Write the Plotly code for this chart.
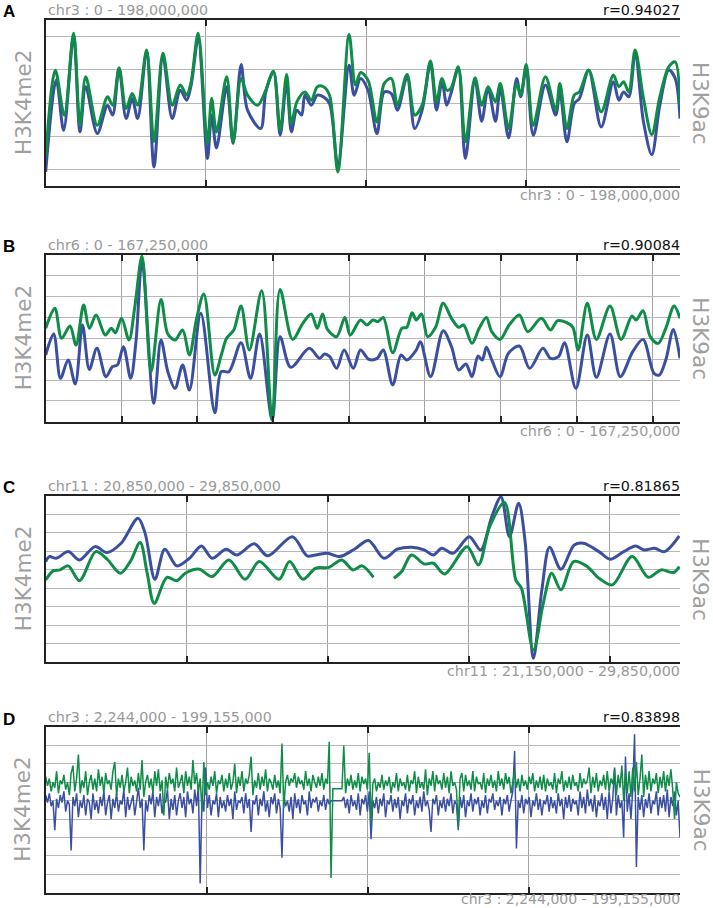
import numpy as np
import plotly.graph_objects as go

W, H = 713, 908
BLUE = "#3B4FA0"
GREEN = "#0E8C48"
GRAY_TXT = "#999999"
FONT = "DejaVu Sans"

# ---------------- Panel A : chr3 0 - 198,000,000 (Mb) ----------------
a_k9_pos = [0, 3.0, 5.8, 8.7, 10.7, 12.5, 16.1, 19.3, 20.9, 22.9, 25.1, 27.0, 28.7, 31.5, 33.8, 36.6,
            39.5, 42.0, 44.0, 45.4, 47.6, 50.5, 51.8, 53.3, 56.5, 58.5, 61.0, 63.0, 66.2, 68.7, 71.1,
            73.2, 75.2, 76.7, 78.4, 80.9, 82.9, 84.8, 86.7, 88.6, 91.2, 94.7, 96.7, 98.3, 100.6, 103.4,
            105.7, 107.9, 109.8, 112.8, 115.2, 117.5, 120.1, 122.0, 123.7, 125.2, 126.5, 128.8, 131.0,
            134.0, 136.1, 138.1, 140.4, 141.9, 144.5, 147.0, 148.3, 150.0, 152.2, 156.0, 159.2, 160.5,
            162.7, 165.0, 166.6, 169.5, 173.4, 177.2, 178.9, 180.4, 182.0, 184.0, 186.6, 189.2, 191.7,
            194.5, 196.5, 198.0]
a_k9 = [1.75, 6.98, 4.27, 9.2, 3.66, 6.58, 3.66, 5.37, 4.87, 7.12, 4.67, 5.57, 4.87, 8.19, 2.66, 7.99,
        4.87, 6.08, 5.47, 6.28, 9.2, 2.56, 5.27, 3.26, 6.58, 2.66, 6.48, 5.47, 4.87, 5.77, 6.92, 3.36,
        6.72, 3.76, 5.07, 5.67, 5.17, 5.98, 5.98, 5.47, 0.85, 9.13, 6.08, 6.84, 6.38, 3.86, 6.18, 6.48,
        4.87, 6.72, 4.27, 4.87, 7.53, 5.07, 6.48, 5.77, 5.88, 7.18, 2.66, 6.52, 4.87, 5.98, 5.07, 6.18,
        3.46, 6.18, 5.47, 7.32, 3.66, 6.58, 4.57, 6.18, 3.46, 5.47, 5.67, 6.98, 4.47, 6.68, 5.98, 6.28,
        5.67, 8.19, 5.27, 3.10, 5.37, 7.18, 7.48, 4.87]
a_k4_pos = [0, 3.3, 5.6, 8.7, 10.7, 12.5, 16.1, 19.3, 20.9, 22.9, 25.1, 27.0, 28.7, 31.5, 33.8, 36.6,
            39.5, 42.0, 44.0, 45.4, 47.6, 50.5, 51.8, 53.3, 56.5, 58.5, 61.0, 63.0, 67.1, 68.7, 71.1,
            73.2, 75.2, 76.7, 78.4, 79.9, 80.9, 82.9, 84.8, 86.7, 88.6, 91.2, 94.7, 96.3, 98.3, 100.6,
            103.4, 105.7, 107.9, 109.8, 112.8, 115.2, 117.5, 120.1, 122.0, 123.7, 125.2, 126.5, 128.8,
            131.0, 134.0, 136.1, 138.1, 140.4, 141.9, 144.5, 147.0, 148.3, 150.0, 152.2, 156.0, 159.2,
            160.5, 162.7, 165.0, 166.6, 169.5, 173.4, 177.2, 178.9, 180.4, 182.0, 184.0, 186.6, 189.2,
            191.7, 194.5, 196.5, 198.0]
a_k4 = [0.85, 6.38, 3.36, 9.05, 3.26, 5.98, 3.16, 4.87, 4.27, 7.08, 4.06, 5.27, 4.06, 8.09, 1.15, 7.79,
        4.06, 5.77, 5.17, 6.08, 8.89, 1.65, 4.27, 2.29, 5.98, 2.56, 7.32, 4.57, 3.46, 5.67, 6.88, 3.06,
        6.28, 3.26, 4.57, 4.27, 5.47, 4.87, 5.47, 5.37, 4.97, 1.25, 7.28, 5.47, 6.48, 5.77, 3.16, 5.67,
        5.57, 4.57, 6.58, 3.46, 4.57, 7.38, 4.57, 6.28, 4.87, 5.57, 7.08, 1.65, 6.38, 3.90, 5.88, 3.90,
        5.88, 2.90, 6.48, 5.37, 7.08, 3.06, 6.08, 4.27, 5.67, 2.66, 4.97, 5.27, 6.98, 3.56, 6.28, 5.17,
        5.67, 5.37, 7.99, 3.86, 1.89, 4.87, 6.98, 6.48, 4.06]

# ---------------- Panel B : chr6 0 - 167,250,000 (Mb) ----------------
b_k9_pos = [0, 2.4, 4.2, 6.4, 8.0, 10.0, 11.5, 13.3, 15.7, 17.3, 18.4, 20.0, 21.96, 23.5, 25.4, 27.8,
            30.4, 32.2, 34.1, 36.1, 37.9, 39.8, 41.7, 44.6, 46.3, 47.7, 49.6, 51.5, 53.7, 56.96, 59.7,
            61.8, 65.1, 67.8, 70.0, 71.6, 73.0, 74.3, 76.7, 78.9, 80.3, 83.0, 84.7, 86.3, 87.6, 89.0,
            91.5, 93.9, 95.2, 96.6, 97.7, 99.1, 100.7, 102.8, 104.8, 107.0, 108.9, 110.2, 112.4, 114.3,
            116.2, 117.6, 119.8, 122.2, 124.9, 127.1, 130.7, 133.1, 135.0, 137.4, 139.0, 140.4, 142.8,
            145.2, 148.8, 151.7, 154.6, 155.7, 157.5, 159.4, 161.5, 163.5, 165.7, 167.25]
b_k9 = [4.48, 5.44, 4.0, 4.59, 3.68, 5.6, 4.48, 5.12, 4.16, 4.48, 4.27, 4.96, 3.92, 5.52, 7.95, 2.4,
        5.87, 4.21, 3.92, 4.4, 3.2, 4.96, 6.13, 2.24, 3.2, 4.0, 4.4, 5.55, 3.44, 6.29, 0.08, 6.35, 3.95,
        4.72, 5.17, 4.48, 5.17, 4.43, 4.08, 5.0, 4.16, 4.88, 4.64, 4.88, 4.8, 5.0, 3.31, 4.48, 4.53,
        5.23, 4.88, 5.17, 4.08, 4.53, 5.68, 4.96, 4.53, 4.64, 3.76, 4.48, 5.0, 4.32, 3.95, 4.64, 5.12,
        4.32, 4.96, 4.4, 4.85, 4.75, 4.53, 3.44, 5.68, 3.95, 5.55, 3.95, 5.07, 4.88, 5.33, 4.08, 3.76,
        4.48, 5.55, 4.96]
b_k4_pos = [0, 2.1, 3.9, 5.9, 7.8, 9.7, 11.5, 13.5, 15.9, 17.6, 18.9, 20.5, 22.4, 23.8, 25.4, 28.5,
            30.4, 32.2, 34.1, 36.1, 37.9, 40.9, 44.6, 46.3, 48.3, 51.5, 54.0, 56.4, 59.7, 61.8, 64.6,
            69.5, 72.2, 73.5, 74.9, 76.7, 78.7, 81.1, 83.0, 85.2, 87.4, 89.0, 91.5, 93.7, 95.2, 97.7,
            98.8, 101.5, 104.8, 107.0, 108.9, 110.8, 112.4, 114.0, 115.1, 116.2, 117.8, 119.8, 122.0,
            124.9, 127.6, 131.1, 133.1, 135.2, 136.8, 139.8, 142.8, 145.2, 148.8, 151.5, 154.8, 157.5,
            160.4, 161.8, 163.5, 165.5, 167.25]
b_k4 = [3.2, 4.21, 2.08, 2.96, 1.81, 4.64, 2.51, 3.52, 2.16, 2.64, 2.72, 3.6, 2.08, 3.84, 7.76, 0.88,
        3.92, 2.4, 1.6, 2.72, 1.52, 5.2, 0.43, 2.4, 2.4, 3.79, 2.08, 4.21, 0.08, 4.08, 2.61, 3.52, 3.04,
        3.25, 3.12, 2.56, 3.44, 2.56, 3.44, 2.99, 3.04, 3.44, 1.76, 3.2, 2.96, 3.44, 3.84, 2.16, 4.37,
        3.6, 2.48, 2.77, 2.16, 3.15, 2.96, 3.57, 2.88, 2.16, 3.28, 3.63, 2.56, 3.52, 3.04, 3.12, 3.79,
        1.6, 4.16, 2.13, 4.21, 2.16, 3.36, 3.95, 2.32, 2.24, 2.96, 4.43, 3.04]

# ---------------- Panel C : chr11 20,850,000 - 29,850,000 (Mb) ----------------
c_k4_pos = [20.85, 20.90, 21.0, 21.17, 21.33, 21.55, 21.72, 21.92, 22.16, 22.26, 22.40, 22.54, 22.71,
            22.89, 23.06, 23.21, 23.41, 23.56, 23.81, 24.00, 24.35, 24.56, 24.68, 24.85, 25.02, 25.23,
            25.43, 25.65, 25.84, 26.04, 26.22, 26.35, 26.47, 26.63, 26.86, 27.02, 27.18, 27.31, 27.43,
            27.56, 27.65, 27.77, 27.89, 28.00, 28.16, 28.35, 28.48, 28.70, 28.86, 29.05, 29.22, 29.34,
            29.49, 29.63, 29.84]
c_k4 = [5.45, 5.72, 5.63, 5.99, 5.54, 6.26, 5.94, 6.44, 7.8, 6.99, 4.49, 6.12, 5.22, 5.63, 6.30, 5.63,
        6.12, 5.81, 6.41, 5.76, 6.8, 5.76, 5.81, 5.90, 5.72, 6.12, 6.59, 5.63, 6.12, 6.23, 6.08, 5.81,
        6.17, 5.90, 6.8, 6.08, 7.89, 8.95, 6.8, 8.61, 6.62, 0.22, 3.92, 6.23, 5.04, 6.35, 6.44, 5.99,
        5.58, 5.99, 6.30, 6.08, 6.17, 5.99, 6.84]
c_k9_pos = [20.85, 20.96, 21.05, 21.17, 21.33, 21.56, 21.72, 21.91, 22.05, 22.19, 22.29, 22.39, 22.57,
            22.71, 22.83, 23.03, 23.21, 23.45, 23.68, 23.88, 24.16, 24.31, 24.50, 24.68, 24.87, 25.05,
            25.21, 25.34, 25.50, 25.65, 25.79, 25.90, 26.04, 26.22, 26.35, 26.51, 26.83, 26.99, 27.15,
            27.36, 27.52, 27.60, 27.77, 27.91, 28.03, 28.16, 28.34, 28.52, 28.70, 28.89, 29.17, 29.40,
            29.58, 29.76, 29.84]
c_k9 = [4.46, 4.96, 5.0, 5.22, 4.42, 5.99, 5.58, 4.82, 5.45, 6.48, 4.82, 3.19, 4.60, 4.42, 4.82, 5.04,
        4.64, 5.54, 4.49, 5.45, 4.49, 5.45, 4.49, 5.09, 5.14, 5.54, 5.0, 5.22, 4.60, None, 4.55, 4.91,
        5.81, 5.32, 5.36, 4.78, 6.26, 5.27, 7.35, 8.65, 4.46, 4.01, 0.67, 3.19, 4.82, 3.92, 5.45, 5.22,
        4.55, 4.19, 5.72, 4.60, 5.0, 4.86, 5.18]

# ---------------- Panel D : chr3 2,244,000 - 199,155,000 (equal-width bins) ----------------
d_k4 = [5.3, 4.9, 5.4, 4.7, 5.0, 3.4, 5.1, 4.6, 5.3, 4.9,
        5.5, 4.4, 5.0, 4.8, 2.3, 5.2, 4.7, 5.4, 4.1, 5.0,
        4.6, 5.3, 4.2, 5.1, 4.9, 4.0, 5.4, 4.5, 5.0, 4.3,
        5.2, 4.7, 5.5, 4.2, 4.9, 5.3, 4.0, 5.1, 4.6, 5.4,
        4.4, 5.0, 4.8, 5.6, 4.1, 5.2, 4.5, 4.9, 5.3, 4.2,
        5.0, 5.7, 4.6, 5.1, 2.3, 5.0, 4.4, 5.3, 4.8, 5.5,
        4.1, 5.2, 4.7, 5.4, 4.3, 5.0, 4.9, 5.6, 4.0, 5.1,
        4.5, 5.3, 4.2, 5.0, 5.4, 4.6, 5.2, 4.1, 5.5, 4.8,
        5.1, 4.3, 5.6, 4.7, 5.8, 0.5, 5.2, 4.4, 6.8, 4.6,
        5.3, 4.2, 5.0, 4.8, 5.4, 4.1, 5.2, 4.6, 5.0, 4.4,
        5.3, 4.7, 5.1, 4.0, 5.5, 4.5, 5.0, 4.9, 5.2, 4.3,
        5.4, 4.6, 5.1, 3.3, 5.0, 4.8, 5.3, 4.2, 5.1, 4.7,
        5.5, 4.4, 5.0, 4.1, 5.2, 4.8, 5.4, 4.3, 5.1, 4.6,
        1.9, 5.3, 4.7, 5.0, 4.4, 5.2, 4.0, 5.4, 4.6, 5.1,
        4.3, 5.3, 4.8, 5.0, 4.2, 5.5, 4.6, 5.1, 4.9, 5.2,
        4.4, 5.0, 4.7, 5.3, 4.5, 5.1, 4.8, 5.0, 5.0, 5.0,
        5.0, 5.0, 5.0, 5.0, 5.2, 4.6, 5.1, 4.3, 5.3, 4.7,
        5.0, 4.5, 5.4, 4.2, 5.1, 4.8, 5.3, 4.4, 5.5, 2.9,
        5.0, 4.6, 5.2, 4.3, 5.1, 4.7, 5.4, 4.1, 5.0, 4.8,
        5.3, 4.4, 5.1, 4.6, 5.2, 4.0, 5.0, 4.7, 5.4, 4.3,
        5.1, 4.8, 5.3, 4.2, 5.0, 4.6, 5.2, 4.4, 5.5, 4.7,
        5.0, 4.5, 3.3, 5.1, 4.8, 5.3, 4.2, 5.0, 4.6, 5.2,
        4.4, 5.1, 4.7, 5.4, 4.3, 5.0, 4.8, 3.4, 5.2, 4.6,
        5.3, 4.1, 5.0, 4.7, 5.4, 4.4, 5.1, 4.8, 5.2, 4.2,
        5.0, 4.6, 5.3, 4.3, 5.1, 4.9, 5.4, 4.5, 5.0, 4.7,
        5.2, 4.2, 5.1, 4.8, 5.3, 4.4, 5.0, 5.5, 7.7, 2.4,
        5.0, 4.6, 5.3, 4.3, 5.1, 4.8, 5.2, 4.1, 5.0, 4.7,
        5.4, 4.5, 5.1, 4.2, 5.0, 4.8, 5.3, 4.4, 5.2, 4.6,
        5.0, 4.3, 5.4, 4.7, 5.1, 4.0, 5.2, 4.6, 5.3, 4.4,
        5.1, 4.8, 5.0, 4.2, 5.5, 4.6, 5.2, 4.3, 5.6, 4.7,
        5.1, 4.4, 5.3, 4.1, 5.0, 4.7, 5.4, 4.5, 5.2, 4.0,
        5.5, 4.3, 5.1, 6.8, 4.2, 5.3, 4.6, 5.0, 3.0, 7.4,
        4.4, 5.4, 4.0, 5.6, 8.6, 1.4, 5.2, 4.5, 5.3, 4.1,
        5.1, 4.6, 5.4, 4.3, 5.0, 4.8, 5.5, 4.2, 5.2, 4.6,
        5.3, 4.4, 5.6, 4.1, 5.2, 4.7, 5.5, 4.2, 5.0, 3.0]
d_k9 = [6.3, 5.8, 6.2, 5.5, 6.0, 5.7, 6.6, 5.4, 6.1, 5.9,
        6.4, 5.6, 6.0, 5.3, 6.5, 6.9, 5.5, 6.2, 7.5, 5.4,
        6.1, 5.7, 6.6, 5.3, 6.0, 6.4, 5.6, 6.2, 5.5, 6.7,
        5.8, 6.3, 5.4, 6.5, 5.9, 6.1, 5.6, 6.6, 7.1, 5.3,
        6.2, 5.7, 6.4, 5.5, 6.0, 6.8, 5.4, 6.3, 5.8, 6.1,
        5.5, 6.5, 5.6, 7.2, 5.2, 6.0, 6.4, 5.7, 6.2, 5.4,
        6.6, 5.8, 6.7, 5.5, 6.1, 4.2, 6.3, 5.6, 6.5, 5.9,
        6.2, 5.5, 6.8, 5.7, 6.0, 6.4, 5.4, 6.6, 5.8, 6.3,
        5.6, 7.2, 5.9, 6.5, 5.5, 6.2, 4.4, 7.1, 5.3, 6.0,
        5.6, 6.3, 5.8, 6.6, 5.4, 6.1, 5.9, 6.4, 5.5, 6.2,
        5.7, 6.5, 5.6, 6.0, 7.0, 5.4, 6.3, 5.8, 6.6, 5.5,
        6.2, 5.9, 6.4, 7.4, 5.3, 6.1, 5.7, 6.5, 5.6, 6.3,
        5.8, 6.7, 5.5, 6.2, 6.0, 5.6, 6.4, 5.7, 6.1, 5.4,
        8.1, 4.6, 6.0, 6.4, 5.8, 6.2, 6.0, 6.5, 5.7, 6.3,
        5.9, 6.1, 5.6, 6.6, 5.8, 6.2, 5.5, 6.4, 6.0, 5.7,
        6.3, 5.8, 6.5, 5.6, 6.2, 5.9, 8.2, 0.8, 5.65, 5.65,
        5.65, 5.65, 5.65, 5.65, 8.0, 5.4, 6.2, 5.8, 6.4, 5.6,
        6.1, 5.7, 6.5, 5.5, 6.3, 5.9, 6.2, 5.6, 7.6, 3.8,
        5.9, 6.2, 5.5, 6.0, 5.7, 6.4, 5.6, 6.1, 5.8, 6.3,
        5.4, 6.0, 5.7, 6.5, 5.5, 6.2, 5.8, 6.0, 5.6, 6.4,
        5.5, 6.1, 5.9, 6.6, 5.4, 6.3, 5.7, 6.0, 5.6, 6.7,
        5.3, 6.2, 5.8, 6.6, 5.5, 6.4, 5.9, 6.1, 5.6, 6.5,
        5.7, 6.3, 5.4, 6.6, 5.8, 6.0, 5.6, 3.6, 6.2, 6.5,
        5.5, 6.4, 5.8, 6.1, 5.6, 6.6, 5.5, 6.3, 5.9, 6.0,
        5.6, 6.5, 5.4, 6.2, 5.8, 6.4, 5.7, 6.1, 5.5, 6.6,
        5.8, 6.2, 5.6, 6.5, 5.9, 6.3, 5.4, 6.0, 6.6, 5.7,
        6.2, 5.5, 6.4, 5.8, 6.1, 5.6, 6.3, 5.9, 6.5, 5.5,
        6.1, 5.7, 6.3, 5.6, 6.4, 5.5, 6.2, 5.8, 6.0, 5.6,
        6.5, 5.4, 6.2, 5.9, 6.6, 5.5, 6.1, 5.7, 6.3, 5.6,
        6.4, 5.8, 6.0, 5.5, 6.5, 5.7, 6.2, 5.9, 6.1, 6.8,
        5.4, 6.3, 5.7, 6.5, 5.5, 6.1, 5.8, 6.4, 5.6, 6.6,
        5.5, 6.2, 5.9, 6.7, 5.3, 6.4, 5.7, 6.9, 5.0, 6.5,
        5.4, 6.6, 5.2, 6.8, 5.5, 7.1, 5.3, 6.2, 7.5, 5.2,
        6.4, 5.6, 6.6, 5.5, 6.2, 5.9, 6.5, 5.4, 6.3, 5.7,
        6.6, 5.5, 6.4, 5.8, 6.7, 5.6, 4.0, 6.0, 5.4, 5.2]
d_pos = list(np.linspace(2.244, 199.155, len(d_k4)))

# ---------------- panel meta ----------------
panels = [
    dict(letter="A", title="chr3 : 0 - 198,000,000", r="r=0.94027", bottom="chr3 : 0 - 198,000,000",
         xr=[0, 198.0], xt=[50, 100, 150], yr=[0, 10], yt=[1, 3, 5, 7, 9],
         k4=(a_k4_pos, a_k4), k9=(a_k9_pos, a_k9), shape="spline", lw=3.0),
    dict(letter="B", title="chr6 : 0 - 167,250,000", r="r=0.90084", bottom="chr6 : 0 - 167,250,000",
         xr=[0, 167.25], xt=[20, 40, 60, 80, 100, 120, 140, 160], yr=[0, 8], yt=[1, 2, 3, 4, 5, 6, 7],
         k4=(b_k4_pos, b_k4), k9=(b_k9_pos, b_k9), shape="spline", lw=3.0),
    dict(letter="C", title="chr11 : 20,850,000 - 29,850,000", r="r=0.81865",
         bottom="chr11 : 21,150,000 - 29,850,000",
         xr=[20.85, 29.85], xt=[22.85, 24.85, 26.85, 28.85], yr=[0, 9], yt=[1, 2, 3, 4, 5, 6, 7, 8],
         k4=(c_k4_pos, c_k4), k9=(c_k9_pos, c_k9), shape="spline", lw=3.0),
    dict(letter="D", title="chr3 : 2,244,000 - 199,155,000", r="r=0.83898",
         bottom="chr3 : 2,244,000 - 199,155,000",
         xr=[2.244, 199.155], xt=[52.244, 102.244, 152.244], yr=[0, 9], yt=[1, 2, 3, 4, 5, 6, 7, 8],
         k4=(d_pos, d_k4), k9=(d_pos, d_k9), shape="linear", lw=1.5),
]
tops = [20, 255, 496, 727]
bots = [186, 421.7, 662.3, 892.7]
left_px, right_px = 45.7, 680.0


def px_x(x):
    return x / W


def px_y(y):
    return 1 - y / H


fig = go.Figure()
annotations = []
layout = {}
for i, p in enumerate(panels):
    n = "" if i == 0 else str(i + 1)
    xa, ya = "x" + n, "y" + n
    top, bot = tops[i], bots[i]
    for (xs, ys), col in ((p["k4"], BLUE), (p["k9"], GREEN)):
        line = dict(color=col, width=p["lw"], shape=p["shape"])
        if p["shape"] == "spline":
            line["smoothing"] = 0.9
        fig.add_trace(go.Scatter(x=xs, y=ys, mode="lines", line=line, xaxis=xa, yaxis=ya,
                                 connectgaps=False, showlegend=False, hoverinfo="skip"))
    layout["xaxis" + n] = dict(domain=[px_x(left_px), px_x(right_px)], range=p["xr"], anchor=ya,
                               tickvals=p["xt"], showticklabels=False, showgrid=True,
                               gridcolor="#a3a3a3", gridwidth=1.2, ticks="inside", ticklen=6,
                               tickwidth=1.5, tickcolor="#222", showline=True, linecolor="#222",
                               linewidth=2, mirror="ticks", zeroline=False, fixedrange=True)
    layout["yaxis" + n] = dict(domain=[px_y(bot), px_y(top)], range=p["yr"], anchor=xa,
                               tickvals=p["yt"], showticklabels=False, showgrid=True,
                               gridcolor="#b8b8b8", gridwidth=1.3, ticks="", showline=True,
                               linecolor="#222", linewidth=2, mirror=False, zeroline=False,
                               fixedrange=True)
    mid = (top + bot) / 2
    last = i == len(panels) - 1
    annotations += [
        dict(text="<b>%s</b>" % p["letter"], x=px_x(1), y=px_y(top - 8), xanchor="left",
             yanchor="middle", font=dict(family="Liberation Sans", size=17, color="#000")),
        dict(text=p["title"], x=px_x(46), y=px_y(top - 10), xanchor="left", yanchor="middle",
             font=dict(family=FONT, size=14.3, color=GRAY_TXT)),
        dict(text=p["r"], x=px_x(682), y=px_y(top - 10), xanchor="right", yanchor="middle",
             font=dict(family=FONT, size=14.3, color="#111")),
        dict(text=p["bottom"], x=px_x(682), y=px_y(899.3 if last else bot + 9), xanchor="right",
             yanchor="middle", font=dict(family=FONT, size=14 if last else 14.3, color=GRAY_TXT)),
        dict(text="H3K4me2", x=px_x(23), y=px_y(mid), xanchor="center", yanchor="middle",
             textangle=-90, font=dict(family=FONT, size=21.5, color="#a0a0a0")),
        dict(text="H3K9ac", x=px_x(701), y=px_y(mid), xanchor="center", yanchor="middle",
             textangle=90, font=dict(family=FONT, size=21.5, color="#a0a0a0")),
    ]

for a in annotations:
    a.update(xref="paper", yref="paper", showarrow=False)

fig.update_layout(width=W, height=H, margin=dict(l=0, r=0, t=0, b=0), plot_bgcolor="white",
                  paper_bgcolor="white", annotations=annotations, **layout)
fig.write_html("out.html", config={"displayModeBar": False},
               post_script="document.body.style.margin='0';document.body.style.padding='0';"
                           "document.body.style.overflow='hidden';")
